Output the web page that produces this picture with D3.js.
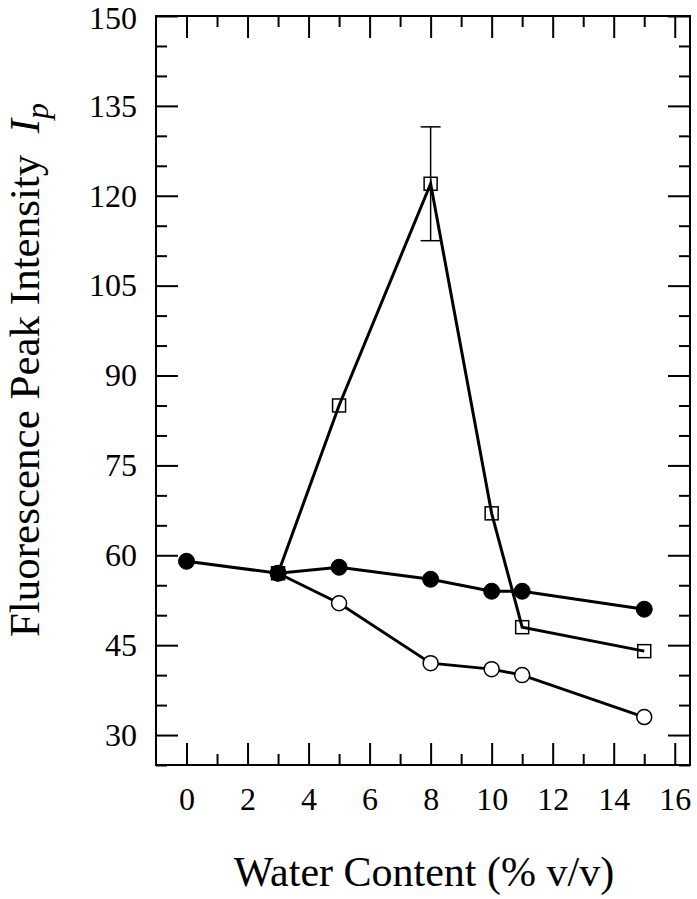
<!DOCTYPE html>
<html>
<head>
<meta charset="utf-8">
<script src="https://cdn.jsdelivr.net/npm/d3@7"></script>
<style>
  body { margin: 0; background: #fff; }
  svg { display: block; }
  text { font-family: "Liberation Serif", "Times New Roman", serif; fill: #000; }
</style>
</head>
<body>
<svg id="chart" width="697" height="899"></svg>
<script>
// ---- data ----
const filledX = [0, 3, 5, 8, 10, 11, 15];
const filledY = [59, 57, 58, 56, 54, 54, 51];
const squareX = [3, 5, 8, 10, 11, 15];
const squareY = [57, 85, 122, 67, 48, 44];
const squareErr = [0, 0, 9.5, 0, 0, 0];
const openX = [3, 5, 8, 10, 11, 15];
const openY = [57, 52, 42, 41, 40, 33];
const xTicks = [0, 2, 4, 6, 8, 10, 12, 14, 16];
const xMinor = [1, 3, 5, 7, 9, 11, 13, 15];
const yTicks = [30, 45, 60, 75, 90, 105, 120, 135, 150];
const yMinor = [25, 35, 40, 50, 55, 65, 70, 80, 85, 95, 100, 110, 115, 125, 130, 140, 145];
const xTitle = "Water Content (% v/v)";
const yTitle = "Fluorescence Peak Intensity";

// ---- layout ----
const L = 156, R = 690, T = 16, B = 765;
const svg = d3.select("#chart");
const x = d3.scaleLinear().domain([-1, 16.5]).range([L, R]);
const y = d3.scaleLinear().domain([25, 150]).range([B, T]);

const MAJ = 22, MIN = 11;
function styleAxis(g) {
  g.select(".domain").remove();
  g.selectAll("line").attr("stroke", "#000").attr("stroke-width", 2);
  g.selectAll("text").style("font-family", '"Liberation Serif", "Times New Roman", serif').style("font-size", "32px").attr("fill", "#000");
}
// bottom
svg.append("g").attr("transform", `translate(0,${B})`)
  .call(d3.axisBottom(x).tickValues(xTicks).tickSize(-MAJ).tickPadding(22).tickFormat(d3.format("d"))).call(styleAxis);
svg.append("g").attr("transform", `translate(0,${B})`)
  .call(d3.axisBottom(x).tickValues(xMinor).tickSize(-MIN).tickFormat("")).call(styleAxis);
// top
svg.append("g").attr("transform", `translate(0,${T})`)
  .call(d3.axisTop(x).tickValues(xTicks).tickSize(-MAJ).tickFormat("")).call(styleAxis);
svg.append("g").attr("transform", `translate(0,${T})`)
  .call(d3.axisTop(x).tickValues(xMinor).tickSize(-MIN).tickFormat("")).call(styleAxis);
// left
const yAx = svg.append("g").attr("transform", `translate(${L},0)`)
  .call(d3.axisLeft(y).tickValues(yTicks).tickSize(-MAJ).tickPadding(19).tickFormat(d3.format("d"))).call(styleAxis);
// keep the top label fully inside the picture
yAx.selectAll(".tick text").filter(d => d === 150).attr("dy", "0.40em");
svg.append("g").attr("transform", `translate(${L},0)`)
  .call(d3.axisLeft(y).tickValues(yMinor).tickSize(-MIN).tickFormat("")).call(styleAxis);
// right
svg.append("g").attr("transform", `translate(${R},0)`)
  .call(d3.axisRight(y).tickValues(yTicks).tickSize(-MAJ).tickFormat("")).call(styleAxis);
svg.append("g").attr("transform", `translate(${R},0)`)
  .call(d3.axisRight(y).tickValues(yMinor).tickSize(-MIN).tickFormat("")).call(styleAxis);

// frame
svg.append("rect").attr("x", L).attr("y", T).attr("width", R - L).attr("height", B - T)
  .attr("fill", "none").attr("stroke", "#000").attr("stroke-width", 2);

// ---- lines ----
const line = d3.line().x(d => x(d[0])).y(d => y(d[1]));
const filled = filledX.map((v, i) => [v, filledY[i]]);
const squares = squareX.map((v, i) => [v, squareY[i], squareErr[i]]);
const opens = openX.map((v, i) => [v, openY[i]]);
[squares, opens, filled].forEach(s => {
  svg.append("path").attr("d", line(s)).attr("fill", "none").attr("stroke", "#000").attr("stroke-width", 3);
});

// error bars
squares.filter(d => d[2] > 0).forEach(d => {
  const g = svg.append("g").attr("stroke", "#000").attr("stroke-width", 1.5);
  g.append("line").attr("x1", x(d[0])).attr("x2", x(d[0])).attr("y1", y(d[1] + d[2])).attr("y2", y(d[1] - d[2]));
  g.append("line").attr("x1", x(d[0]) - 10).attr("x2", x(d[0]) + 10).attr("y1", y(d[1] + d[2])).attr("y2", y(d[1] + d[2]));
  g.append("line").attr("x1", x(d[0]) - 10).attr("x2", x(d[0]) + 10).attr("y1", y(d[1] - d[2])).attr("y2", y(d[1] - d[2]));
});

// ---- markers ----
const S = 13;
svg.append("g").selectAll("rect").data(squares).join("rect")
  .attr("x", d => x(d[0]) - S / 2).attr("y", d => y(d[1]) - S / 2)
  .attr("width", S).attr("height", S)
  .attr("fill", "none").attr("stroke", "#000").attr("stroke-width", 1.5);
svg.append("g").selectAll("circle").data(opens).join("circle")
  .attr("cx", d => x(d[0])).attr("cy", d => y(d[1])).attr("r", 7.5)
  .attr("fill", "#fff").attr("stroke", "#000").attr("stroke-width", 1.5);
svg.append("g").selectAll("circle").data(filled).join("circle")
  .attr("cx", d => x(d[0])).attr("cy", d => y(d[1])).attr("r", 8)
  .attr("fill", "#000").attr("stroke", "#000").attr("stroke-width", 1);

// ---- titles ----
svg.append("text").attr("x", (L + R) / 2 + 1).attr("y", 886).attr("text-anchor", "middle")
  .style("font-size", "42px").text(xTitle);

const yt = svg.append("text").attr("transform", `translate(39,370) rotate(-90)`)
  .attr("text-anchor", "middle").style("font-size", "43px");
yt.append("tspan").text(yTitle + "\u00a0\u00a0");
yt.append("tspan").style("font-style", "italic").text("I");
yt.append("tspan").style("font-style", "italic").style("font-size", "32px").attr("dy", 9).text("p");
</script>
</body>
</html>
